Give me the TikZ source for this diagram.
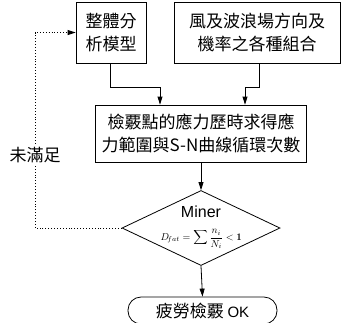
\documentclass[tikz,border=0pt]{standalone}
\usepackage{fontspec}
\newfontfamily\cjk{Noto Sans CJK TC}
\newfontfamily\lat{Liberation Sans}
\usetikzlibrary{shapes.geometric,arrows.meta}
\begin{document}
\begin{tikzpicture}[x=1pt,y=1pt,
  box/.style={draw,line width=0.8pt,inner sep=0pt,align=center,font=\cjk\fontsize{17}{23}\selectfont},
  arr/.style={line width=0.8pt,-{Triangle[length=8pt,width=5pt]}},
  dots/.style={line width=0.9pt,dotted,-{Triangle[length=8pt,width=5pt]}}]
\useasboundingbox (0,0) rectangle (342,-322);
\node[box,minimum width=70,minimum height=61] (b1) at (111,-32.5) {整體分\\析模型};
\node[box,minimum width=166,minimum height=61] (b2) at (257,-32.5) {風及波浪場方向及\\機率之各種組合};
\node[box,minimum width=211,minimum height=57] (b3) at (201,-133.5) {檢覈點的應力歷時求得應\\力範圍與S-N曲線循環次數};
\node[draw,diamond,line width=0.8pt,inner sep=0pt,minimum width=158,minimum height=75] (dia) at (201,-228) {};
\node[font=\lat\fontsize{16}{18}\selectfont,inner sep=0pt] (miner) at (201,-212) {Miner};
\node[font=\fontsize{10}{12}\selectfont,inner sep=0pt] (form) at (201,-239) {$\displaystyle D_{\!fat}=\sum\frac{n_i}{N_i}<\mathbf{1}$};
\node[draw,line width=0.8pt,rounded corners=13pt,minimum width=149,minimum height=27,inner sep=0pt,font=\cjk\fontsize{17}{20}\selectfont] (ok) at (202.5,-310.5) {疲勞檢覈 {\lat\fontsize{15}{18}\selectfont OK}};
\coordinate (c1) at (35,-32.5);
\draw[arr] ([xshift=-1]b1.south) -- ++(0,-23.5) -| ([xshift=-41]b3.north);
\draw[arr] ([xshift=2]b2.south) -- ++(0,-23.5) -| ([xshift=44]b3.north);
\draw[arr] (b3.south) -- (dia.north);
\draw[arr] (dia.south) -- (ok.north);
\draw[dots] (dia.west) -| (c1) -- (b1.west);
\node[fill=white,inner sep=1pt,font=\cjk\fontsize{17}{20}\selectfont] (lab) at (35,-155) {未滿足};
\end{tikzpicture}
\end{document}
